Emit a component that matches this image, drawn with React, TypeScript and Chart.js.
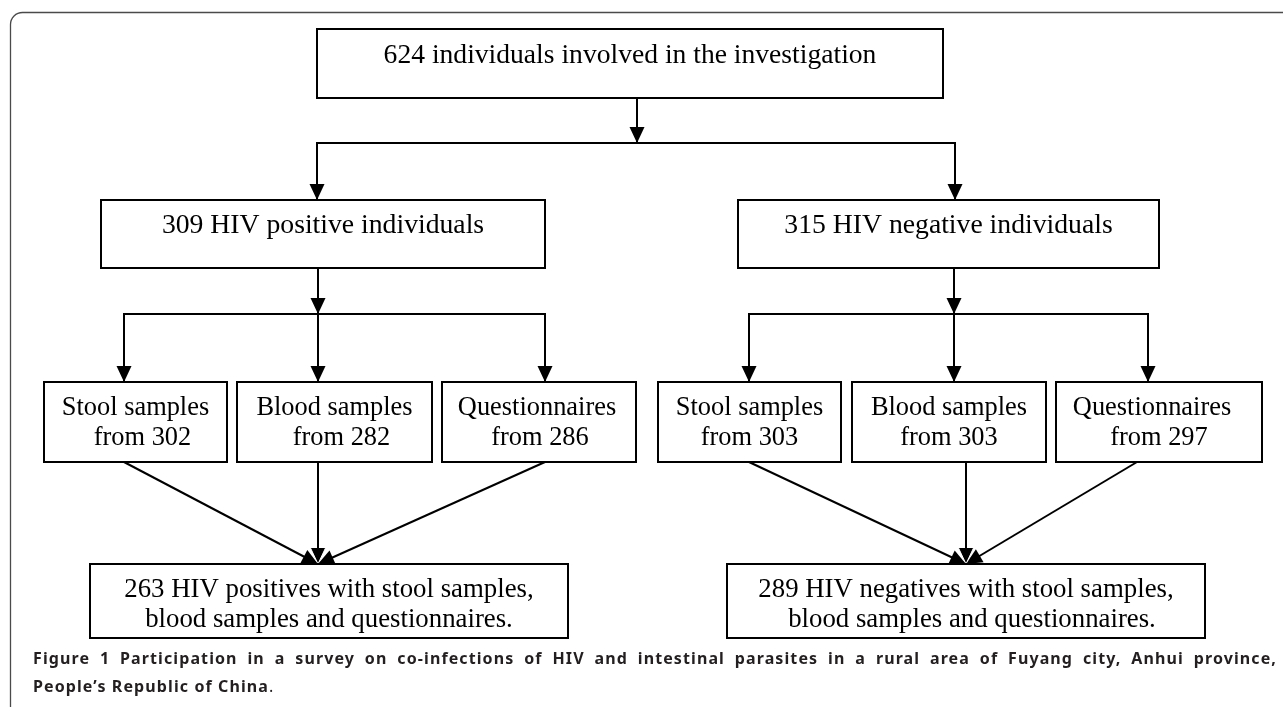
import React, { useEffect, useRef } from "react";
import { Chart, registerables } from "chart.js";

Chart.register(...registerables);

// ---------- data ----------
const TOTAL_INDIVIDUALS = 624;
const GROUP_NAMES = ["positive", "negative"];
const GROUP_COUNTS = [309, 315];
const SAMPLE_TYPES = ["Stool samples", "Blood samples", "Questionnaires"];
const POSITIVE_SAMPLE_COUNTS = [302, 282, 286];
const NEGATIVE_SAMPLE_COUNTS = [303, 303, 297];
const COMPLETE_COUNTS = [263, 289];
const CAPTION_LABEL = "Figure 1";
const CAPTION_LINE_1 =
  "Participation in a survey on co-infections of HIV and intestinal parasites in a rural area of Fuyang city, Anhui province,";
const CAPTION_LINE_2 = "People\u2019s Republic of China";

// ---------- layout (data space = 1283 x 707 page units) ----------
const W = 1283;
const H = 707;
const TOP_BOX = { x0: 317, x1: 943, y0: 29, y1: 98, bases: [63] };
const GROUP_BOX_X = [
  [101, 545],
  [738, 1159],
];
const GROUP_BOX_Y = [200, 268];
const GROUP_BASES = [233];
const SUB_BOX_X = [
  [
    [44, 227],
    [237, 432],
    [442, 636],
  ],
  [
    [658, 841],
    [852, 1046],
    [1056, 1262],
  ],
];
const SUB_BOX_Y = [382, 462];
const SUB_BASES = [415, 445];
// horizontal nudges of the text lines inside the sample boxes [line1, line2]
const SUB_LINE_SHIFT = [
  [
    [0, 7],
    [0, 7],
    [-2, 1],
  ],
  [
    [0, 0],
    [0, 0],
    [-7, 0],
  ],
];
const FINAL_BOX_X = [
  [90, 568],
  [727, 1205],
];
const FINAL_BOX_Y = [564, 638];
const FINAL_BASES = [597, 627];
const FINAL_LINE_SHIFT = [
  [0, 0],
  [0, 6],
];
const TOP_STEM_X = 637;
const BRANCH_Y = 143;
const BRANCH_X = [317, 955];
const SPLIT_Y = 314;
const SPLIT_X = [
  [124, 318, 545],
  [749, 954, 1148],
];
const MERGE_X = [
  [124, 318, 545],
  [749, 966, 1137],
];
const MERGE_TARGET_X = [318, 966];
const CAPTION_X = [33, 1277];
const CAPTION_BASES = [664, 692];

type Pt = { x: number; y: number };

function seg(points: Pt[], opts: Record<string, any> = {}) {
  return {
    data: points,
    showLine: true,
    borderColor: "#000",
    borderWidth: 2,
    pointRadius: 0,
    pointHoverRadius: 0,
    tension: 0,
    borderJoinStyle: "miter",
    fill: false,
    ...opts,
  };
}

function buildConnectors() {
  const ds: any[] = [];
  ds.push(seg([{ x: TOP_STEM_X, y: TOP_BOX.y1 }, { x: TOP_STEM_X, y: BRANCH_Y }], { arrowEnd: true }));
  ds.push(
    seg(
      [
        { x: BRANCH_X[0], y: GROUP_BOX_Y[0] },
        { x: BRANCH_X[0], y: BRANCH_Y },
        { x: BRANCH_X[1], y: BRANCH_Y },
        { x: BRANCH_X[1], y: GROUP_BOX_Y[0] },
      ],
      { arrowStart: true, arrowEnd: true }
    )
  );
  for (let g = 0; g < 2; g++) {
    const sx = SPLIT_X[g];
    ds.push(seg([{ x: sx[1], y: GROUP_BOX_Y[1] }, { x: sx[1], y: SPLIT_Y }], { arrowEnd: true }));
    ds.push(
      seg(
        [
          { x: sx[0], y: SUB_BOX_Y[0] },
          { x: sx[0], y: SPLIT_Y },
          { x: sx[2], y: SPLIT_Y },
          { x: sx[2], y: SUB_BOX_Y[0] },
        ],
        { arrowStart: true, arrowEnd: true }
      )
    );
    ds.push(seg([{ x: sx[1], y: SPLIT_Y }, { x: sx[1], y: SUB_BOX_Y[0] }], { arrowEnd: true }));
    const mx = MERGE_X[g];
    const tx = MERGE_TARGET_X[g];
    ds.push(seg([{ x: mx[0], y: SUB_BOX_Y[1] }, { x: tx, y: FINAL_BOX_Y[0] }], { arrowEnd: true }));
    ds.push(seg([{ x: mx[2], y: SUB_BOX_Y[1] }, { x: tx, y: FINAL_BOX_Y[0] }], { arrowEnd: true }));
    ds.push(seg([{ x: mx[1], y: SUB_BOX_Y[1] }, { x: tx, y: FINAL_BOX_Y[0] }], { arrowEnd: true, arrowOutline: true }));
  }
  return ds;
}

type Box = {
  x0: number;
  x1: number;
  y0: number;
  y1: number;
  lines: string[];
  bases: number[];
  size: number;
  shift: number[];
};

function buildBoxes(): Box[] {
  const boxes: Box[] = [];
  boxes.push({
    ...TOP_BOX,
    lines: [`${TOTAL_INDIVIDUALS} individuals involved in the investigation`],
    size: 27.6,
    shift: [0],
  });
  const sampleCounts = [POSITIVE_SAMPLE_COUNTS, NEGATIVE_SAMPLE_COUNTS];
  for (let g = 0; g < 2; g++) {
    boxes.push({
      x0: GROUP_BOX_X[g][0],
      x1: GROUP_BOX_X[g][1],
      y0: GROUP_BOX_Y[0],
      y1: GROUP_BOX_Y[1],
      lines: [`${GROUP_COUNTS[g]} HIV ${GROUP_NAMES[g]} individuals`],
      bases: GROUP_BASES,
      size: 27.7,
      shift: [0],
    });
    for (let j = 0; j < 3; j++) {
      boxes.push({
        x0: SUB_BOX_X[g][j][0],
        x1: SUB_BOX_X[g][j][1],
        y0: SUB_BOX_Y[0],
        y1: SUB_BOX_Y[1],
        lines: [SAMPLE_TYPES[j], `from ${sampleCounts[g][j]}`],
        bases: SUB_BASES,
        size: 26.4,
        shift: SUB_LINE_SHIFT[g][j],
      });
    }
    boxes.push({
      x0: FINAL_BOX_X[g][0],
      x1: FINAL_BOX_X[g][1],
      y0: FINAL_BOX_Y[0],
      y1: FINAL_BOX_Y[1],
      lines: [`${COMPLETE_COUNTS[g]} HIV ${GROUP_NAMES[g]}s with stool samples,`, `blood samples and questionnaires.`],
      bases: FINAL_BASES,
      size: 26.8,
      shift: FINAL_LINE_SHIFT[g],
    });
  }
  return boxes;
}

const BOXES = buildBoxes();

function drawHead(ctx: CanvasRenderingContext2D, tip: Pt, from: Pt, outline: boolean) {
  const len = 16;
  const half = 7.5;
  const dx = tip.x - from.x;
  const dy = tip.y - from.y;
  const d = Math.hypot(dx, dy) || 1;
  const ux = dx / d;
  const uy = dy / d;
  const bx = tip.x - ux * len;
  const by = tip.y - uy * len;
  const p1 = { x: bx - uy * half, y: by + ux * half };
  const p2 = { x: bx + uy * half, y: by - ux * half };
  ctx.beginPath();
  ctx.moveTo(tip.x, tip.y);
  ctx.lineTo(p1.x, p1.y);
  ctx.lineTo(p2.x, p2.y);
  ctx.closePath();
  ctx.fillStyle = "#000";
  ctx.fill();
  if (outline) {
    ctx.beginPath();
    ctx.moveTo(p1.x, p1.y);
    ctx.lineTo(tip.x, tip.y);
    ctx.lineTo(p2.x, p2.y);
    ctx.strokeStyle = "#fff";
    ctx.lineWidth = 1;
    ctx.stroke();
  }
}

const flowPlugin = {
  id: "flowchart",
  afterDatasetsDraw(chart: any) {
    const ctx: CanvasRenderingContext2D = chart.ctx;
    const px = (v: number) => chart.scales.x.getPixelForValue(v);
    const py = (v: number) => chart.scales.y.getPixelForValue(v);
    ctx.save();

    // frame (open at right and bottom)
    const fx = px(10.5);
    const fy = py(12.5);
    const r = 12;
    ctx.beginPath();
    ctx.moveTo(fx, py(H));
    ctx.lineTo(fx, fy + r);
    ctx.arcTo(fx, fy, fx + r, fy, r);
    ctx.lineTo(px(W), fy);
    ctx.strokeStyle = "#4a4a4a";
    ctx.lineWidth = 1.3;
    ctx.stroke();

    // arrowheads
    chart.data.datasets.forEach((ds: any) => {
      const pts: Pt[] = ds.data.map((p: Pt) => ({ x: px(p.x), y: py(p.y) }));
      if (ds.arrowEnd) drawHead(ctx, pts[pts.length - 1], pts[pts.length - 2], !!ds.arrowOutline);
      if (ds.arrowStart) drawHead(ctx, pts[0], pts[1], false);
    });

    // boxes
    ctx.strokeStyle = "#000";
    ctx.lineWidth = 2;
    ctx.fillStyle = "#000";
    ctx.textAlign = "center";
    ctx.textBaseline = "alphabetic";
    BOXES.forEach((b) => {
      const x0 = px(b.x0);
      const x1 = px(b.x1);
      const y0 = py(b.y0);
      const y1 = py(b.y1);
      ctx.strokeRect(x0, y0, x1 - x0, y1 - y0);
      const cx = (x0 + x1) / 2;
      ctx.font = `${b.size}px "Liberation Serif", "Times New Roman", serif`;
      b.lines.forEach((line, i) => {
        ctx.fillText(line, cx + (b.shift[i] || 0), py(b.bases[i]));
      });
    });

    // caption
    const boldFont = 'bold 16px "Noto Sans", "Open Sans", sans-serif';
    const normFont = '16px "Noto Sans", "Open Sans", sans-serif';
    ctx.fillStyle = "#231f20";
    ctx.textAlign = "left";
    (ctx as any).letterSpacing = "1.1px";
    ctx.font = boldFont;
    const words = (CAPTION_LABEL + " " + CAPTION_LINE_1).split(" ");
    const widths = words.map((w) => ctx.measureText(w).width);
    const total = widths.reduce((a, b) => a + b, 0);
    const left = px(CAPTION_X[0]);
    const right = px(CAPTION_X[1]);
    const gap = (right - left - total) / (words.length - 1);
    let x = left;
    words.forEach((w, i) => {
      ctx.fillText(w, x, py(CAPTION_BASES[0]));
      x += widths[i] + gap;
    });
    ctx.fillText(CAPTION_LINE_2, left, py(CAPTION_BASES[1]));
    const w2 = ctx.measureText(CAPTION_LINE_2).width;
    ctx.font = normFont;
    ctx.fillText(".", left + w2, py(CAPTION_BASES[1]));

    ctx.restore();
  },
};

export default function App() {
  const ref = useRef<HTMLCanvasElement>(null);
  useEffect(() => {
    const canvas = ref.current;
    if (!canvas) return;
    const chart = new Chart(canvas, {
      type: "scatter",
      data: { datasets: buildConnectors() as any },
      options: {
        animation: false,
        responsive: false,
        devicePixelRatio: 1,
        events: [],
        layout: { padding: 0 },
        plugins: {
          legend: { display: false },
          tooltip: { enabled: false },
          title: { display: false },
        },
        scales: {
          x: { type: "linear", min: 0, max: W, display: false },
          y: { type: "linear", min: 0, max: H, reverse: true, display: false },
        },
      },
      plugins: [flowPlugin as any],
    });
    return () => chart.destroy();
  }, []);
  return (
    <div style={{ position: "absolute", left: 0, top: 0, width: W, height: H, background: "#fff" }}>
      <canvas ref={ref} width={W} height={H} style={{ display: "block", width: W, height: H }} />
    </div>
  );
}
